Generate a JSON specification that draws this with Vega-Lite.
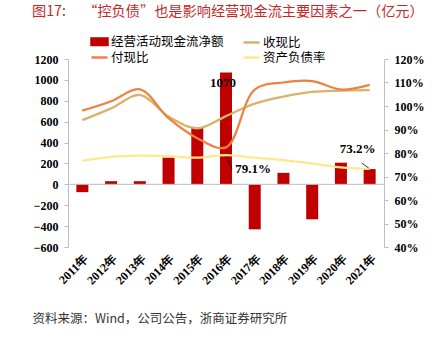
{
  "$schema": "https://vega.github.io/schema/vega-lite/v6.json",
  "width": 316,
  "height": 188,
  "autosize": {"type": "none"},
  "padding": {"left": 68, "top": 59, "right": 59, "bottom": 92},
  "background": "white",
  "config": {
    "view": {"stroke": null},
    "axis": {
      "grid": false,
      "labelFont": "Times New Roman",
      "labelFontWeight": "bold",
      "labelFontSize": 12,
      "labelColor": "black",
      "labelPadding": 6,
      "labelOverlap": false,
      "domainColor": "#BFBFBF",
      "tickColor": "#BFBFBF",
      "tickSize": 4
    }
  },
  "title": {
    "text": "图17:　 “控负债”也是影响经营现金流主要因素之一（亿元）",
    "anchor": "start",
    "frame": "group",
    "font": "Noto Sans CJK SC",
    "fontSize": 14.2,
    "fontWeight": "normal",
    "color": "#C62828",
    "dx": -36,
    "offset": 16
  },
  "datasets": {
    "cash": [
      {"year": "2011年", "cash": -75, "series": "经营活动现金流净额"},
      {"year": "2012年", "cash": 30, "series": "经营活动现金流净额"},
      {"year": "2013年", "cash": 30, "series": "经营活动现金流净额"},
      {"year": "2014年", "cash": 255, "series": "经营活动现金流净额"},
      {"year": "2015年", "cash": 542, "series": "经营活动现金流净额"},
      {"year": "2016年", "cash": 1070, "series": "经营活动现金流净额"},
      {"year": "2017年", "cash": -431, "series": "经营活动现金流净额"},
      {"year": "2018年", "cash": 110, "series": "经营活动现金流净额"},
      {"year": "2019年", "cash": -335, "series": "经营活动现金流净额"},
      {"year": "2020年", "cash": 207, "series": "经营活动现金流净额"},
      {"year": "2021年", "cash": 146, "series": "经营活动现金流净额"}
    ],
    "ratios": [
      {"year": "2011年", "series": "收现比", "value": 0.94},
      {"year": "2012年", "series": "收现比", "value": 0.99},
      {"year": "2013年", "series": "收现比", "value": 1.047},
      {"year": "2014年", "series": "收现比", "value": 0.955},
      {"year": "2015年", "series": "收现比", "value": 0.905},
      {"year": "2016年", "series": "收现比", "value": 0.957},
      {"year": "2017年", "series": "收现比", "value": 1.01},
      {"year": "2018年", "series": "收现比", "value": 1.04},
      {"year": "2019年", "series": "收现比", "value": 1.06},
      {"year": "2020年", "series": "收现比", "value": 1.065},
      {"year": "2021年", "series": "收现比", "value": 1.068},
      {"year": "2011年", "series": "付现比", "value": 0.98},
      {"year": "2012年", "series": "付现比", "value": 1.02},
      {"year": "2013年", "series": "付现比", "value": 1.071},
      {"year": "2014年", "series": "付现比", "value": 0.948},
      {"year": "2015年", "series": "付现比", "value": 0.863},
      {"year": "2016年", "series": "付现比", "value": 0.824},
      {"year": "2017年", "series": "付现比", "value": 1.07},
      {"year": "2018年", "series": "付现比", "value": 1.1},
      {"year": "2019年", "series": "付现比", "value": 1.106},
      {"year": "2020年", "series": "付现比", "value": 1.07},
      {"year": "2021年", "series": "付现比", "value": 1.09},
      {"year": "2011年", "series": "资产负债率", "value": 0.767},
      {"year": "2012年", "series": "资产负债率", "value": 0.784},
      {"year": "2013年", "series": "资产负债率", "value": 0.789},
      {"year": "2014年", "series": "资产负债率", "value": 0.787},
      {"year": "2015年", "series": "资产负债率", "value": 0.78},
      {"year": "2016年", "series": "资产负债率", "value": 0.791},
      {"year": "2017年", "series": "资产负债率", "value": 0.78},
      {"year": "2018年", "series": "资产负债率", "value": 0.77},
      {"year": "2019年", "series": "资产负债率", "value": 0.756},
      {"year": "2020年", "series": "资产负债率", "value": 0.739},
      {"year": "2021年", "series": "资产负债率", "value": 0.732}
    ]
  },
  "layer": [
    {
      "data": {"name": "cash"},
      "layer": [
        {
          "mark": {"type": "bar", "size": 12},
          "encoding": {
            "x": {
              "field": "year",
              "type": "nominal",
              "sort": null,
              "scale": {"paddingInner": 0, "paddingOuter": 0},
              "axis": {
                "orient": "bottom",
                "domain": false,
                "ticks": false,
                "labelAngle": -45,
                "labelPadding": 6,
                "labelFont": "Times New Roman",
                "labelFontWeight": "bold",
                "labelFontSize": 12,
                "labelOverlap": false,
                "title": "资料来源：Wind，公司公告，浙商证券研究所",
                "titleFont": "Noto Sans CJK SC",
                "titleFontSize": 12.5,
                "titleFontWeight": "normal",
                "titleColor": "#333333",
                "titleX": -36,
                "titleY": 71,
                "titleAlign": "left",
                "titleAnchor": "start",
                "titleBaseline": "middle"
              }
            },
            "y": {
              "field": "cash",
              "type": "quantitative",
              "scale": {"domain": [-600, 1200]},
              "axis": {
                "orient": "left",
                "values": [-600, -400, -200, 0, 200, 400, 600, 800, 1000, 1200],
                "format": "d",
                "title": null,
                "labelFont": "Times New Roman",
                "labelFontWeight": "bold",
                "labelFontSize": 12,
                "labelOverlap": false,
                "labelFlush": false
              }
            },
            "color": {
              "field": "series",
              "type": "nominal",
              "scale": {
                "domain": ["经营活动现金流净额", "收现比", "付现比", "资产负债率"],
                "range": ["#C00000", "#D8B36A", "#EE8040", "#FFE88C"]
              },
              "legend": {
                "orient": "none",
                "legendX": 25,
                "legendY": -24,
                "columns": 2,
                "values": ["经营活动现金流净额", "付现比", "收现比", "资产负债率"],
                "title": null,
                "labelFont": "Noto Sans CJK SC",
                "labelFontSize": 12.5,
                "labelColor": "black",
                "symbolSize": 100,
                "columnPadding": 14,
                "rowPadding": 1,
                "labelOffset": 5,
                "encode": {
                  "symbols": {
                    "update": {
                      "shape": {"signal": "datum.value === '经营活动现金流净额' ? 'M-1.6,-0.65H1.6V0.65H-1.6Z' : 'M-1.6,0H1.6'"},
                      "fill": {"signal": "datum.value === '经营活动现金流净额' ? '#C00000' : 'transparent'"},
                      "stroke": {"signal": "datum.value === '付现比' ? '#EE8040' : datum.value === '收现比' ? '#D8B36A' : datum.value === '资产负债率' ? '#FFE88C' : 'transparent'"},
                      "strokeWidth": {"value": 2.5},
                      "opacity": {"value": 1}
                    }
                  }
                }
              }
            }
          }
        },
        {
          "data": {"values": [{}]},
          "mark": {"type": "rule", "color": "#BFBFBF", "strokeWidth": 1},
          "encoding": {"y": {"datum": 0, "type": "quantitative", "scale": {"domain": [-600, 1200]}, "axis": {"orient": "left", "values": [-600, -400, -200, 0, 200, 400, 600, 800, 1000, 1200], "format": "d", "title": null, "labelFont": "Times New Roman", "labelFontWeight": "bold", "labelFontSize": 12, "labelOverlap": false, "labelFlush": false}}}
        },
        {
          "transform": [{"filter": "datum.year === '2016年'"}],
          "mark": {"type": "text", "font": "Times New Roman", "fontWeight": "bold", "fontSize": 13, "color": "black", "dx": -3, "dy": 10},
          "encoding": {
            "x": {"field": "year", "type": "nominal", "sort": null},
            "y": {"field": "cash", "type": "quantitative", "scale": {"domain": [-600, 1200]}, "axis": {"orient": "left", "values": [-600, -400, -200, 0, 200, 400, 600, 800, 1000, 1200], "format": "d", "title": null, "labelFont": "Times New Roman", "labelFontWeight": "bold", "labelFontSize": 12, "labelOverlap": false, "labelFlush": false}},
            "text": {"field": "cash", "type": "quantitative", "format": "d"}
          }
        }
      ]
    },
    {
      "data": {"name": "ratios"},
      "layer": [
        {
          "mark": {"type": "line", "interpolate": "catmull-rom", "strokeWidth": 2.25},
          "encoding": {
            "x": {"field": "year", "type": "nominal", "sort": null},
            "y": {
              "field": "value",
              "type": "quantitative",
              "scale": {"domain": [0.4, 1.2]},
              "axis": {
                "orient": "right",
                "values": [0.4, 0.5, 0.6, 0.7, 0.8, 0.9, 1.0, 1.1, 1.2],
                "format": ".0%",
                "title": null,
                "labelFont": "Times New Roman",
                "labelFontWeight": "bold",
                "labelFontSize": 12,
                "labelOverlap": false,
                "labelFlush": false
              }
            },
            "color": {
              "field": "series",
              "type": "nominal",
              "scale": {
                "domain": ["经营活动现金流净额", "收现比", "付现比", "资产负债率"],
                "range": ["#C00000", "#D8B36A", "#EE8040", "#FFE88C"]
              }
            }
          }
        },
        {
          "transform": [{"filter": "datum.series === '资产负债率' && datum.year === '2016年'"}],
          "mark": {"type": "text", "font": "Times New Roman", "fontWeight": "bold", "fontSize": 13, "color": "black", "dx": 27, "dy": 14},
          "encoding": {
            "x": {"field": "year", "type": "nominal", "sort": null},
            "y": {"field": "value", "type": "quantitative", "scale": {"domain": [0.4, 1.2]}, "axis": {"orient": "right", "values": [0.4, 0.5, 0.6, 0.7, 0.8, 0.9, 1.0, 1.1, 1.2], "format": ".0%", "title": null, "labelFont": "Times New Roman", "labelFontWeight": "bold", "labelFontSize": 12, "labelOverlap": false, "labelFlush": false}},
            "text": {"field": "value", "type": "quantitative", "format": ".1%"}
          }
        },
        {
          "transform": [{"filter": "datum.series === '资产负债率' && datum.year === '2021年'"}],
          "mark": {"type": "text", "font": "Times New Roman", "fontWeight": "bold", "fontSize": 13, "color": "black", "dx": -12, "dy": -20},
          "encoding": {
            "x": {"field": "year", "type": "nominal", "sort": null},
            "y": {"field": "value", "type": "quantitative", "scale": {"domain": [0.4, 1.2]}, "axis": {"orient": "right", "values": [0.4, 0.5, 0.6, 0.7, 0.8, 0.9, 1.0, 1.1, 1.2], "format": ".0%", "title": null, "labelFont": "Times New Roman", "labelFontWeight": "bold", "labelFontSize": 12, "labelOverlap": false, "labelFlush": false}},
            "text": {"field": "value", "type": "quantitative", "format": ".1%"}
          }
        },
        {
          "transform": [{"filter": "datum.series === '资产负债率' && datum.year === '2016年'"}],
          "mark": {"type": "rule", "color": "black", "strokeWidth": 0.8, "xOffset": 1, "yOffset": 2, "x2Offset": 6, "y2Offset": 14},
          "encoding": {
            "x": {"field": "year", "type": "nominal", "sort": null, "bandPosition": 0.5},
            "x2": {"field": "year", "bandPosition": 0.5},
            "y": {"field": "value", "type": "quantitative", "scale": {"domain": [0.4, 1.2]}, "axis": {"orient": "right", "values": [0.4, 0.5, 0.6, 0.7, 0.8, 0.9, 1.0, 1.1, 1.2], "format": ".0%", "title": null, "labelFont": "Times New Roman", "labelFontWeight": "bold", "labelFontSize": 12, "labelOverlap": false, "labelFlush": false}},
            "y2": {"field": "value"}
          }
        },
        {
          "transform": [{"filter": "datum.series === '资产负债率' && datum.year === '2021年'"}],
          "mark": {"type": "rule", "color": "black", "strokeWidth": 0.8, "xOffset": -8, "yOffset": -6, "x2Offset": -1, "y2Offset": -1},
          "encoding": {
            "x": {"field": "year", "type": "nominal", "sort": null, "bandPosition": 0.5},
            "x2": {"field": "year", "bandPosition": 0.5},
            "y": {"field": "value", "type": "quantitative", "scale": {"domain": [0.4, 1.2]}, "axis": {"orient": "right", "values": [0.4, 0.5, 0.6, 0.7, 0.8, 0.9, 1.0, 1.1, 1.2], "format": ".0%", "title": null, "labelFont": "Times New Roman", "labelFontWeight": "bold", "labelFontSize": 12, "labelOverlap": false, "labelFlush": false}},
            "y2": {"field": "value"}
          }
        }
      ]
    }
  ],
  "resolve": {"scale": {"y": "independent"}}
}
